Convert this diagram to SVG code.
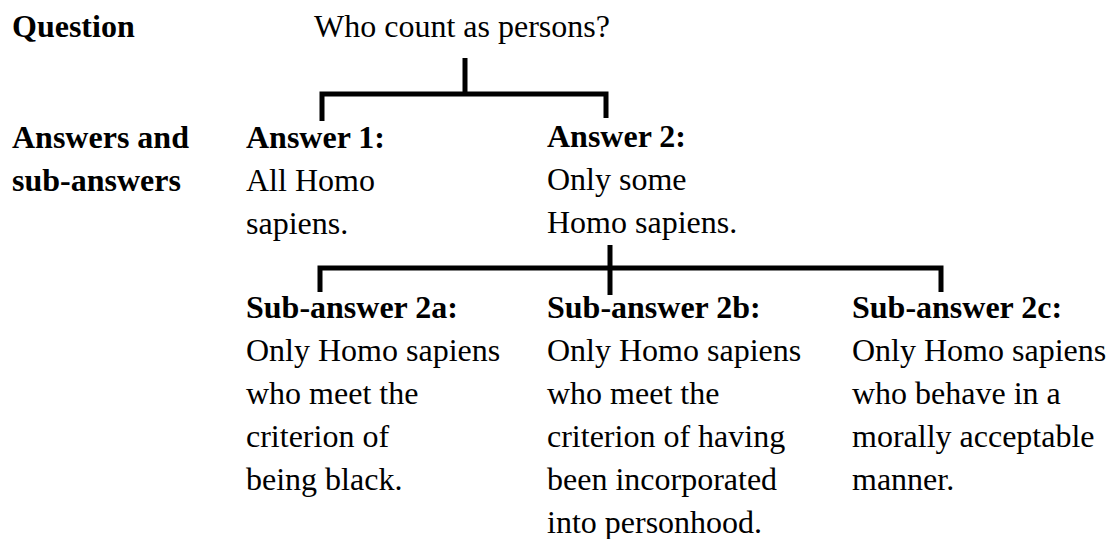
<svg xmlns="http://www.w3.org/2000/svg" width="1112" height="539" viewBox="0 0 1112 539">
<style>
text{font-family:"Liberation Serif","Times New Roman",serif;font-size:32px;fill:#000}
.b{font-weight:bold}
.ln{fill:none;stroke:#000;stroke-width:5;stroke-linejoin:miter;stroke-linecap:butt}
</style>
<rect width="1112" height="539" fill="#fff"/>
<g id="labels">
<text class="b" x="12" y="37">Question</text>
<text class="b" x="12" y="148">Answers and</text>
<text class="b" x="12" y="191">sub-answers</text>
</g>
<g id="question"><text x="314" y="37">Who count as persons?</text></g>
<g id="answer1">
<text class="b" x="246" y="148">Answer 1:</text>
<text x="246" y="191">All Homo</text>
<text x="246" y="234">sapiens.</text>
</g>
<g id="answer2">
<text class="b" x="547" y="147">Answer 2:</text>
<text x="547" y="190">Only some</text>
<text x="547" y="233">Homo sapiens.</text>
</g>
<g id="sub2a">
<text class="b" x="246" y="318">Sub-answer 2a:</text>
<text x="246" y="361">Only Homo sapiens</text>
<text x="246" y="404">who meet the</text>
<text x="246" y="447">criterion of</text>
<text x="246" y="490">being black.</text>
</g>
<g id="sub2b">
<text class="b" x="547" y="318">Sub-answer 2b:</text>
<text x="547" y="361">Only Homo sapiens</text>
<text x="547" y="404">who meet the</text>
<text x="547" y="447">criterion of having</text>
<text x="547" y="490">been incorporated</text>
<text x="547" y="533">into personhood.</text>
</g>
<g id="sub2c">
<text class="b" x="852" y="318">Sub-answer 2c:</text>
<text x="852" y="361">Only Homo sapiens</text>
<text x="852" y="404">who behave in a</text>
<text x="852" y="447">morally acceptable</text>
<text x="852" y="490">manner.</text>
</g>
<g id="connectors">
<line class="ln" x1="465" y1="58" x2="465" y2="94"/>
<polyline class="ln" points="322,121 322,94 606,94 606,118"/>
<line class="ln" x1="610" y1="245" x2="610" y2="295"/>
<polyline class="ln" points="320,292 320,268 941,268 941,292"/>
</g>
</svg>
